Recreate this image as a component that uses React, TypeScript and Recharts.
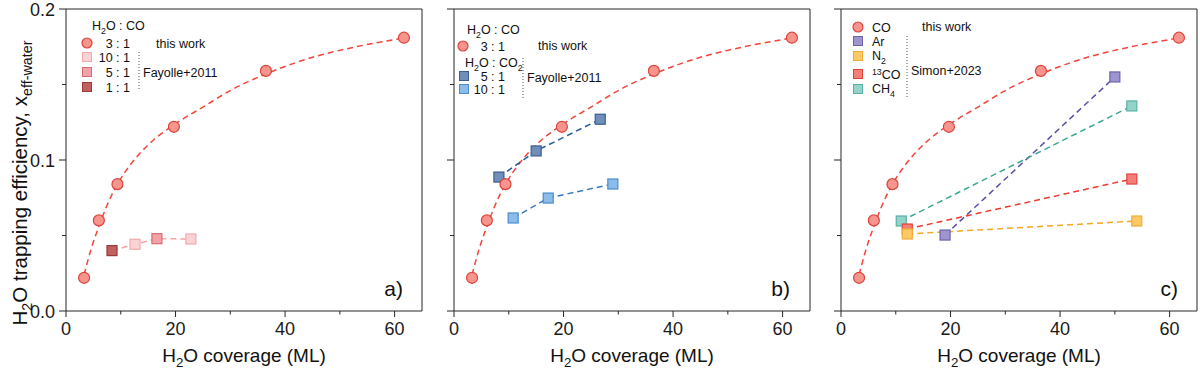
import React from 'react';
import { ComposedChart, Line, XAxis, YAxis, ReferenceLine } from 'recharts';

// ---------- data ----------
const coX = [3.3, 6.0, 9.4, 19.7, 36.5, 61.7];
const coY = [0.022, 0.06, 0.084, 0.122, 0.159, 0.181];

const fitX = [3.3, 4.5, 6, 7.5, 9.4, 12, 15, 20, 25, 30, 36.5, 45, 53, 62];
const fitY = [0.024, 0.04, 0.056, 0.07, 0.084, 0.098, 0.11, 0.124, 0.135, 0.146, 0.157, 0.168, 0.175, 0.181];

const fayCoX = [8.4, 12.6, 16.6, 22.8];
const fayCoY = [0.04, 0.0442, 0.0479, 0.0477];
const fayCoRatio = ['1:1', '10:1', '5:1', '10:1'];

const co2FiveX = [8.2, 15.0, 26.7];
const co2FiveY = [0.0887, 0.106, 0.127];
const co2TenX = [10.8, 17.2, 29.0];
const co2TenY = [0.0616, 0.0748, 0.0841];

const arX = [19.0, 50.0];
const arY = [0.0503, 0.155];
const n2X = [12.1, 54.0];
const n2Y = [0.051, 0.0596];
const co13X = [12.1, 53.1];
const co13Y = [0.0543, 0.0874];
const ch4X = [11.0, 53.1];
const ch4Y = [0.0596, 0.1358];

const xTicks = [0, 10, 20, 30, 40, 50, 60];
const yTicks = [0, 0.05, 0.1, 0.15, 0.2];

const zip = (xs: number[], ys: number[], extra?: string[]) =>
  xs.map((x, i) => ({ x, y: ys[i], k: extra ? extra[i] : '' }));

const coData = zip(coX, coY);
const fitData = zip(fitX, fitY);
const fayCoData = zip(fayCoX, fayCoY, fayCoRatio);
const co2FiveData = zip(co2FiveX, co2FiveY);
const co2TenData = zip(co2TenX, co2TenY);
const arData = zip(arX, arY);
const n2Data = zip(n2X, n2Y);
const co13Data = zip(co13X, co13Y);
const ch4Data = zip(ch4X, ch4Y);

// ---------- styles ----------
const AX = '#262626';
const FONT = '"Liberation Sans", Arial, sans-serif';
const PLOT_LEFT = 66;
const PLOT_BOTTOM = 311;

const C = {
  co: { fill: '#f6958d', stroke: '#d9443c' },
  fit: '#f2453b',
  r11: { fill: '#c0615f', stroke: '#9a3b3a' },
  r51: { fill: '#f3a3a6', stroke: '#d86d70' },
  r101: { fill: '#fcd3d5', stroke: '#f2a9ab' },
  fayLine: '#f5a3a3',
  c5: { fill: '#6f8fb9', stroke: '#3b5e8f' },
  c5Line: '#1f5aa3',
  c10: { fill: '#8cbcea', stroke: '#4c8bcc' },
  c10Line: '#3678c2',
  ar: { fill: '#9d95cf', stroke: '#6d63ad' },
  arLine: '#5a4eaa',
  n2: { fill: '#fdc964', stroke: '#f1ad35' },
  n2Line: '#f5a623',
  c13: { fill: '#f57f78', stroke: '#e0443e' },
  c13Line: '#ee3a30',
  ch4: { fill: '#92d4ca', stroke: '#5ab2a6' },
  ch4Line: '#3aa898',
};

const ratioStyle: Record<string, { fill: string; stroke: string }> = {
  '1:1': C.r11,
  '5:1': C.r51,
  '10:1': C.r101,
};

// ---------- marks ----------
const Circ = ({ cx, cy, s }: any) => (
  <circle cx={cx} cy={cy} r={5.5} fill={s.fill} stroke={s.stroke} strokeWidth={1.2} />
);
const Sq = ({ cx, cy, s }: any) => (
  <rect x={cx - 5} y={cy - 5} width={10} height={10} fill={s.fill} stroke={s.stroke} strokeWidth={1.2} />
);

const circDot = (s: any) => (p: any) => <Circ key={`c${p.index}`} cx={p.cx} cy={p.cy} s={s} />;
const sqDot = (s: any) => (p: any) => <Sq key={`s${p.index}`} cx={p.cx} cy={p.cy} s={s} />;
const ratioDot = (p: any) => (
  <Sq key={`r${p.index}`} cx={p.cx} cy={p.cy} s={ratioStyle[p.payload.k]} />
);

// ---------- ticks ----------
const XTick = (props: any) => {
  const { x, payload } = props;
  const v = payload.value;
  const major = v % 20 === 0;
  return (
    <g>
      <line x1={x} x2={x} y1={PLOT_BOTTOM} y2={PLOT_BOTTOM + (major ? 6 : 3.5)} stroke={AX} strokeWidth={1} />
      {major && (
        <text x={x} y={PLOT_BOTTOM + 24} textAnchor="middle" fontSize={18} fill="#1a1a1a" fontFamily={FONT}>
          {v}
        </text>
      )}
    </g>
  );
};

const makeYTick = (showLabel: boolean) => (props: any) => {
  const { y, payload } = props;
  const v = payload.value;
  const major = Math.abs(v * 10 - Math.round(v * 10)) < 1e-6;
  return (
    <g>
      <line x1={PLOT_LEFT - (major ? 7 : 4)} x2={PLOT_LEFT} y1={y} y2={y} stroke={AX} strokeWidth={1} />
      {showLabel && major && (
        <text x={PLOT_LEFT - 11} y={y + 6.5} textAnchor="end" fontSize={18} fill="#1a1a1a" fontFamily={FONT}>
          {v.toFixed(1)}
        </text>
      )}
    </g>
  );
};

function Panel({ left, yLabels, children }: any) {
  return (
    <div style={{ position: 'absolute', left, top: 0 }}>
      <ComposedChart width={440} height={373} margin={{ top: 9, right: 18, bottom: 22, left: 6 }}>
        <XAxis
          type="number"
          dataKey="x"
          domain={[0, 65]}
          ticks={xTicks}
          interval={0}
          tick={XTick}
          tickLine={false}
          axisLine={{ stroke: AX }}
          height={40}
          allowDataOverflow
        />
        <YAxis
          type="number"
          dataKey="y"
          domain={[0, 0.2]}
          ticks={yTicks}
          interval={0}
          tick={makeYTick(yLabels)}
          tickLine={false}
          axisLine={{ stroke: AX }}
          width={60}
          allowDataOverflow
        />
        <ReferenceLine y={0.2} stroke={AX} />
        <ReferenceLine x={65} stroke={AX} />
        {children}
      </ComposedChart>
    </div>
  );
}

const dash = '6 4';

const fitLine = (
  <Line
    data={fitData}
    dataKey="y"
    type="monotone"
    stroke={C.fit}
    strokeWidth={1.5}
    strokeDasharray={dash}
    dot={false}
    activeDot={false}
    isAnimationActive={false}
  />
);
const coPoints = (
  <Line
    data={coData}
    dataKey="y"
    stroke="none"
    dot={circDot(C.co)}
    activeDot={false}
    isAnimationActive={false}
  />
);

const seriesLine = (data: any, stroke: string, dot: any) => (
  <Line
    data={data}
    dataKey="y"
    type="linear"
    stroke={stroke}
    strokeWidth={1.5}
    strokeDasharray={dash}
    dot={dot}
    activeDot={false}
    isAnimationActive={false}
  />
);

// ---------- overlay text helpers ----------
const T = (p: any) => <text fontFamily={FONT} fill="#111" {...p} />;
// text with a subscript in the middle: pre + sub + post
const SubText = ({ pre, sub, post, d = 4, ...rest }: any) => (
  <T {...rest}>
    {pre}
    <tspan dy={d} fontSize="70%">{sub}</tspan>
    {post ? <tspan dy={-d}>{post}</tspan> : null}
  </T>
);

const LegCirc = ({ x, y, s }: any) => <circle cx={x} cy={y} r={5} fill={s.fill} stroke={s.stroke} strokeWidth={1.2} />;
const LegSq = ({ x, y, s }: any) => (
  <rect x={x - 4.5} y={y - 4.5} width={9} height={9} fill={s.fill} stroke={s.stroke} strokeWidth={1} />
);

const LS = 12.5; // legend font size

function Overlay() {
  const xt = (cx: number) => (
    <SubText x={cx} y={362} textAnchor="middle" fontSize={19} pre="H" sub="2" post="O coverage (ML)" d={5} />
  );
  return (
    <svg width={1200} height={373} style={{ position: 'absolute', left: 0, top: 0, pointerEvents: 'none' }}>
      {/* Y title */}
      <g transform="translate(27,183) rotate(-90)">
        <T x={0} y={0} textAnchor="middle" fontSize={20.5}>
          H
          <tspan dy={5} fontSize="70%">2</tspan>
          <tspan dy={-5}>O trapping efficiency, x</tspan>
          <tspan dy={5} fontSize="70%">eff-water</tspan>
        </T>
      </g>
      {xt(244)}
      {xt(632)}
      {xt(1019)}

      {/* panel labels */}
      <T x={403} y={296} textAnchor="end" fontSize={21}>a)</T>
      <T x={790} y={296} textAnchor="end" fontSize={21}>b)</T>
      <T x={1178} y={296} textAnchor="end" fontSize={21}>c)</T>

      {/* panel a legend */}
      <SubText x={92} y={30} fontSize={LS} pre="H" sub="2" post="O : CO" />
      <LegCirc x={87} y={43} s={C.co} />
      <T x={130} y={47.5} fontSize={LS} textAnchor="end">3 : 1</T>
      <T x={156} y={47.5} fontSize={LS}>this work</T>
      <LegSq x={87} y={57} s={C.r101} />
      <T x={130} y={61.5} fontSize={LS} textAnchor="end">10 : 1</T>
      <LegSq x={87} y={72} s={C.r51} />
      <T x={130} y={76.5} fontSize={LS} textAnchor="end">5 : 1</T>
      <LegSq x={87} y={87} s={C.r11} />
      <T x={130} y={91.5} fontSize={LS} textAnchor="end">1 : 1</T>
      <line x1={139} x2={139} y1={52} y2={91} stroke="#555" strokeDasharray="1 2" />
      <T x={143} y={76.5} fontSize={LS}>Fayolle+2011</T>

      {/* panel b legend */}
      <SubText x={467} y={34} fontSize={LS} pre="H" sub="2" post="O : CO" />
      <LegCirc x={463} y={46} s={C.co} />
      <T x={505} y={50.5} fontSize={LS} textAnchor="end">3 : 1</T>
      <T x={538} y={49.5} fontSize={LS}>this work</T>
      <T x={465} y={67} fontSize={LS}>
        H
        <tspan dy={4} fontSize="70%">2</tspan>
        <tspan dy={-4}>O : CO</tspan>
        <tspan dy={4} fontSize="70%">2</tspan>
      </T>
      <LegSq x={464} y={76} s={C.c5} />
      <T x={505} y={80.5} fontSize={LS} textAnchor="end">5 : 1</T>
      <LegSq x={464} y={89} s={C.c10} />
      <T x={505} y={93.5} fontSize={LS} textAnchor="end">10 : 1</T>
      <line x1={523} x2={523} y1={58} y2={100} stroke="#555" strokeDasharray="1 2" />
      <T x={527} y={81.5} fontSize={LS}>Fayolle+2011</T>

      {/* panel c legend */}
      <LegCirc x={858} y={27} s={C.co} />
      <T x={872} y={31.5} fontSize={LS}>CO</T>
      <T x={922} y={30.5} fontSize={LS}>this work</T>
      <LegSq x={858} y={41} s={C.ar} />
      <T x={872} y={45.5} fontSize={LS}>Ar</T>
      <LegSq x={858} y={56} s={C.n2} />
      <SubText x={872} y={59.5} fontSize={LS} pre="N" sub="2" />
      <LegSq x={858} y={74} s={C.c13} />
      <T x={872} y={78.5} fontSize={LS}>
        <tspan dy={-4} fontSize="70%">13</tspan>
        <tspan dy={4}>CO</tspan>
      </T>
      <LegSq x={858} y={89} s={C.ch4} />
      <SubText x={872} y={92.5} fontSize={LS} pre="CH" sub="4" />
      <line x1={907} x2={907} y1={36} y2={98} stroke="#555" strokeDasharray="1 2" />
      <T x={911} y={74.5} fontSize={LS}>Simon+2023</T>
    </svg>
  );
}

export default function App() {
  return (
    <div style={{ position: 'absolute', left: 0, top: 0, width: 1200, height: 373, background: '#fff', overflow: 'hidden', fontFamily: FONT }}>
      <Panel left={0} yLabels={true}>
        {fitLine}
        {seriesLine(fayCoData, C.fayLine, ratioDot)}
        {coPoints}
      </Panel>
      <Panel left={388} yLabels={false}>
        {fitLine}
        {seriesLine(co2FiveData, C.c5Line, sqDot(C.c5))}
        {seriesLine(co2TenData, C.c10Line, sqDot(C.c10))}
        {coPoints}
      </Panel>
      <Panel left={775} yLabels={false}>
        {fitLine}
        {seriesLine(arData, C.arLine, sqDot(C.ar))}
        {seriesLine(ch4Data, C.ch4Line, sqDot(C.ch4))}
        {seriesLine(co13Data, C.c13Line, sqDot(C.c13))}
        {seriesLine(n2Data, C.n2Line, sqDot(C.n2))}
        {coPoints}
      </Panel>
      <Overlay />
    </div>
  );
}
